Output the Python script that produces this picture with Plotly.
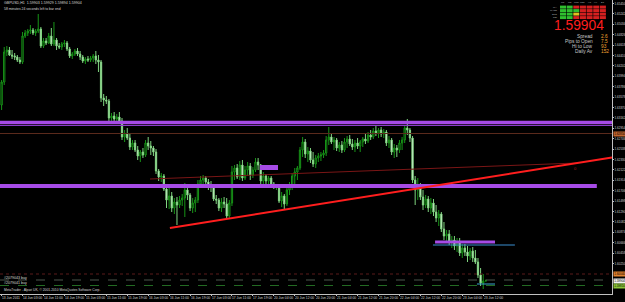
import plotly.graph_objects as go

# ---------------- data (GBPUSD, H1) ----------------
bar_index = list(range(186))

opens = [1.6342, 1.6388, 1.6448, 1.6452, 1.6442, 1.6440, 1.6438, 1.6432, 1.6428, 1.6480,
         1.6486, 1.6490, 1.6492, 1.6486, 1.6490, 1.6494, 1.6460, 1.6470, 1.6466, 1.6480,
         1.6464, 1.6472, 1.6460, 1.6458, 1.6464, 1.6466, 1.6454, 1.6440, 1.6444, 1.6450,
         1.6444, 1.6438, 1.6430, 1.6434, 1.6432, 1.6436, 1.6440, 1.6432, 1.6428, 1.6356,
         1.6352, 1.6350, 1.6316, 1.6320, 1.6314, 1.6318, 1.6310, 1.6278, 1.6284, 1.6276,
         1.6258, 1.6266, 1.6252, 1.6240, 1.6248, 1.6242, 1.6266, 1.6260, 1.6256, 1.6248,
         1.6210, 1.6198, 1.6200, 1.6174, 1.6152, 1.6160, 1.6136, 1.6148, 1.6142, 1.6152,
         1.6156, 1.6172, 1.6162, 1.6136, 1.6146, 1.6152, 1.6184, 1.6192, 1.6196, 1.6188,
         1.6180, 1.6178, 1.6154, 1.6152, 1.6136, 1.6148, 1.6144, 1.6120, 1.6146, 1.6208,
         1.6216, 1.6198, 1.6222, 1.6196, 1.6212, 1.6220, 1.6202, 1.6212, 1.6228, 1.6222,
         1.6190, 1.6200, 1.6190, 1.6196, 1.6184, 1.6178, 1.6180, 1.6150, 1.6160, 1.6144,
         1.6172, 1.6182, 1.6200, 1.6208, 1.6216, 1.6252, 1.6268, 1.6244, 1.6250, 1.6232,
         1.6224, 1.6236, 1.6240, 1.6242, 1.6246, 1.6272, 1.6278, 1.6268, 1.6272, 1.6256,
         1.6262, 1.6252, 1.6268, 1.6274, 1.6264, 1.6258, 1.6266, 1.6260, 1.6268, 1.6274,
         1.6270, 1.6282, 1.6278, 1.6290, 1.6286, 1.6292, 1.6284, 1.6288, 1.6266, 1.6272,
         1.6248, 1.6256, 1.6252, 1.6266, 1.6272, 1.6296, 1.6292, 1.6276, 1.6192, 1.6172,
         1.6180, 1.6158, 1.6142, 1.6154, 1.6136, 1.6146, 1.6128, 1.6116, 1.6124, 1.6094,
         1.6080, 1.6084, 1.6068, 1.6072, 1.6060, 1.6068, 1.6046, 1.6056, 1.6048, 1.6040,
         1.6050, 1.6036, 1.6028, 1.6002, 1.5986, 1.59903]

highs = [1.6392, 1.6458, 1.6460, 1.6458, 1.6452, 1.6446, 1.6442, 1.6438, 1.6488, 1.6492,
         1.6494, 1.6502, 1.6496, 1.6494, 1.6524, 1.6498, 1.6476, 1.6476, 1.6486, 1.6496,
         1.6508, 1.6476, 1.6466, 1.6468, 1.6472, 1.6470, 1.6458, 1.6448, 1.6454, 1.6456,
         1.6450, 1.6442, 1.6438, 1.6440, 1.6440, 1.6444, 1.6450, 1.6442, 1.6432, 1.6364,
         1.6360, 1.6354, 1.6326, 1.6328, 1.6324, 1.6328, 1.6316, 1.6292, 1.6296, 1.6284,
         1.6272, 1.6272, 1.6260, 1.6252, 1.6256, 1.6272, 1.6278, 1.6270, 1.6260, 1.6254,
         1.6214, 1.6206, 1.6204, 1.6180, 1.6176, 1.6168, 1.6156, 1.6158, 1.6160, 1.6164,
         1.6186, 1.6180, 1.6166, 1.6156, 1.6158, 1.6192, 1.6200, 1.6202, 1.6200, 1.6194,
         1.6190, 1.6182, 1.6162, 1.6156, 1.6156, 1.6158, 1.6156, 1.6152, 1.6220, 1.6222,
         1.6224, 1.6230, 1.6232, 1.6220, 1.6228, 1.6226, 1.6218, 1.6236, 1.6236, 1.6224,
         1.6208, 1.6204, 1.6200, 1.6200, 1.6188, 1.6184, 1.6182, 1.6168, 1.6164, 1.6180,
         1.6188, 1.6206, 1.6216, 1.6220, 1.6258, 1.6278, 1.6274, 1.6258, 1.6256, 1.6248,
         1.6242, 1.6246, 1.6248, 1.6252, 1.6280, 1.6298, 1.6284, 1.6278, 1.6276, 1.6268,
         1.6270, 1.6276, 1.6280, 1.6282, 1.6274, 1.6272, 1.6276, 1.6272, 1.6278, 1.6284,
         1.6288, 1.6292, 1.6296, 1.6300, 1.6296, 1.6298, 1.6294, 1.6292, 1.6280, 1.6276,
         1.6264, 1.6262, 1.6272, 1.6278, 1.6302, 1.6314, 1.6296, 1.6280, 1.6200, 1.6196,
         1.6186, 1.6172, 1.6162, 1.6160, 1.6156, 1.6154, 1.6142, 1.6132, 1.6128, 1.6108,
         1.6092, 1.6092, 1.6080, 1.6080, 1.6076, 1.6076, 1.6064, 1.6064, 1.6060, 1.6056,
         1.6058, 1.6052, 1.6036, 1.6016, 1.6004, 1.59929]

lows = [1.6332, 1.6382, 1.6440, 1.6440, 1.6434, 1.6432, 1.6428, 1.6424, 1.6424, 1.6476,
        1.6480, 1.6484, 1.6482, 1.6480, 1.6486, 1.6456, 1.6456, 1.6462, 1.6464, 1.6460,
        1.6460, 1.6452, 1.6454, 1.6452, 1.6458, 1.6450, 1.6436, 1.6434, 1.6440, 1.6440,
        1.6432, 1.6426, 1.6424, 1.6428, 1.6428, 1.6428, 1.6424, 1.6408, 1.6348, 1.6340,
        1.6344, 1.6310, 1.6310, 1.6310, 1.6308, 1.6304, 1.6272, 1.6268, 1.6272, 1.6252,
        1.6252, 1.6248, 1.6232, 1.6228, 1.6236, 1.6238, 1.6252, 1.6242, 1.6240, 1.6204,
        1.6190, 1.6188, 1.6170, 1.6136, 1.6134, 1.6128, 1.6124, 1.6102, 1.6136, 1.6140,
        1.6118, 1.6152, 1.6130, 1.6126, 1.6128, 1.6146, 1.6176, 1.6182, 1.6180, 1.6172,
        1.6168, 1.6150, 1.6144, 1.6130, 1.6128, 1.6136, 1.6114, 1.6116, 1.6140, 1.6192,
        1.6194, 1.6192, 1.6190, 1.6192, 1.6200, 1.6192, 1.6196, 1.6208, 1.6212, 1.6184,
        1.6184, 1.6180, 1.6182, 1.6178, 1.6174, 1.6172, 1.6146, 1.6138, 1.6132, 1.6140,
        1.6162, 1.6172, 1.6184, 1.6192, 1.6212, 1.6238, 1.6236, 1.6228, 1.6226, 1.6218,
        1.6216, 1.6228, 1.6230, 1.6236, 1.6240, 1.6262, 1.6264, 1.6252, 1.6250, 1.6248,
        1.6246, 1.6248, 1.6256, 1.6260, 1.6252, 1.6248, 1.6254, 1.6248, 1.6258, 1.6264,
        1.6266, 1.6272, 1.6274, 1.6280, 1.6276, 1.6278, 1.6276, 1.6260, 1.6256, 1.6242,
        1.6236, 1.6238, 1.6246, 1.6252, 1.6266, 1.6282, 1.6268, 1.6186, 1.6142, 1.6152,
        1.6152, 1.6132, 1.6136, 1.6128, 1.6124, 1.6120, 1.6108, 1.6100, 1.6088, 1.6072,
        1.6068, 1.6062, 1.6056, 1.6052, 1.6048, 1.6040, 1.6036, 1.6040, 1.6028, 1.6032,
        1.6028, 1.6024, 1.5996, 1.5980, 1.5974, 1.59894]

closes = [1.6388, 1.6448, 1.6452, 1.6442, 1.6440, 1.6438, 1.6432, 1.6428, 1.6480, 1.6486,
          1.6490, 1.6492, 1.6486, 1.6490, 1.6494, 1.6460, 1.6470, 1.6466, 1.6480, 1.6464,
          1.6472, 1.6460, 1.6458, 1.6464, 1.6466, 1.6454, 1.6440, 1.6444, 1.6450, 1.6444,
          1.6438, 1.6430, 1.6434, 1.6432, 1.6436, 1.6440, 1.6432, 1.6428, 1.6356, 1.6352,
          1.6350, 1.6316, 1.6320, 1.6314, 1.6318, 1.6310, 1.6278, 1.6284, 1.6276, 1.6258,
          1.6266, 1.6252, 1.6240, 1.6248, 1.6242, 1.6266, 1.6260, 1.6256, 1.6248, 1.6210,
          1.6198, 1.6200, 1.6174, 1.6152, 1.6160, 1.6136, 1.6148, 1.6142, 1.6152, 1.6156,
          1.6172, 1.6162, 1.6136, 1.6146, 1.6152, 1.6184, 1.6192, 1.6196, 1.6188, 1.6180,
          1.6178, 1.6154, 1.6152, 1.6136, 1.6148, 1.6144, 1.6120, 1.6146, 1.6208, 1.6216,
          1.6198, 1.6222, 1.6196, 1.6212, 1.6220, 1.6202, 1.6212, 1.6228, 1.6222, 1.6190,
          1.6200, 1.6190, 1.6196, 1.6184, 1.6178, 1.6180, 1.6150, 1.6160, 1.6144, 1.6172,
          1.6182, 1.6200, 1.6208, 1.6216, 1.6252, 1.6268, 1.6244, 1.6250, 1.6232, 1.6224,
          1.6236, 1.6240, 1.6242, 1.6246, 1.6272, 1.6278, 1.6268, 1.6272, 1.6256, 1.6262,
          1.6252, 1.6268, 1.6274, 1.6264, 1.6258, 1.6266, 1.6260, 1.6268, 1.6274, 1.6270,
          1.6282, 1.6278, 1.6290, 1.6286, 1.6292, 1.6284, 1.6288, 1.6266, 1.6272, 1.6248,
          1.6256, 1.6252, 1.6266, 1.6272, 1.6296, 1.6292, 1.6276, 1.6192, 1.6172, 1.6180,
          1.6158, 1.6142, 1.6154, 1.6136, 1.6146, 1.6128, 1.6116, 1.6124, 1.6094, 1.6080,
          1.6084, 1.6068, 1.6072, 1.6060, 1.6068, 1.6046, 1.6056, 1.6048, 1.6040, 1.6050,
          1.6036, 1.6028, 1.6002, 1.5986, 1.5990, 1.59904]

date_tick_bars = [0, 8, 16, 24, 32, 40, 48, 56, 64, 72, 80, 88, 96, 104, 112, 120,
                  128, 136, 144, 152, 160, 168, 176, 184]
date_tick_labels = ["13 Jun 2011", "14 Jun 03:00", "14 Jun 11:00", "14 Jun 19:00",
                    "15 Jun 03:00", "15 Jun 11:00", "15 Jun 19:00", "16 Jun 03:00",
                    "16 Jun 11:00", "16 Jun 19:00", "17 Jun 03:00", "17 Jun 11:00",
                    "17 Jun 19:00", "20 Jun 04:00", "20 Jun 12:00", "20 Jun 20:00",
                    "21 Jun 04:00", "21 Jun 12:00", "21 Jun 20:00", "22 Jun 04:00",
                    "22 Jun 12:00", "22 Jun 20:00", "23 Jun 04:00", "23 Jun 12:00"]

# visible price-scale labels (the two lowest are hidden behind the order tags)
price_tick_labels = ["1.65450", "1.65242", "1.65034", "1.64826", "1.64618", "1.64410",
                     "1.64202", "1.63994", "1.63786", "1.63578", "1.63370", "1.63162",
                     "1.62954", "1.62746", "1.62538", "1.62330", "1.62122", "1.61914",
                     "1.61706", "1.61498", "1.61290", "1.61082", "1.60874", "1.60666",
                     "1.60458", "1.60250", "1.59626"]

# drawn objects (prices)
resistance_level = 1.6307
resistance_level2 = 1.6301
prev_high_level = 1.6285
support_level = 1.6180
trend_start = (64.3, 1.6096)
trend_end = (233.2, 1.6237)
thin_trend_start = (56.7, 1.6194)
thin_trend_end = (219.8, 1.6226)
box1 = (98.7, 105.6, 1.6212, 1.6222)
zone2_level, zone2_bars = 1.6068, (165.6, 188.5)
blue_level, blue_bars = 1.6062, (164.8, 196.1)
cyan_level, cyan_bars = 1.5984, (181.6, 188.5)
stop_level = 1.6004
order1_level = 1.5992
order2_level = 1.5981
bid_price = 1.59904

# ---------------- figure ----------------
PW, PH = 612.0, 294.0


def px(x):
    return x / PW


def py(y):
    return 1 - y / PH


fig = go.Figure()
fig.add_trace(go.Candlestick(
    x=bar_index, open=opens, high=highs, low=lows, close=closes,
    increasing=dict(line=dict(color="#179417", width=1), fillcolor="#000000"),
    decreasing=dict(line=dict(color="#7fd47f", width=1), fillcolor="#ffffff"),
    whiskerwidth=0, hoverinfo="skip", showlegend=False,
))

shapes = []


def hline(y, color, width, dash="solid", x0=None, x1=None):
    if x0 is None:
        shapes.append(dict(type="line", xref="paper", yref="y", x0=0, x1=1, y0=y, y1=y,
                           line=dict(color=color, width=width, dash=dash), layer="above"))
    else:
        shapes.append(dict(type="line", xref="x", yref="y", x0=x0, x1=x1, y0=y, y1=y,
                           line=dict(color=color, width=width, dash=dash), layer="above"))


hline(stop_level, "#5a1a1a", 1, "dot")
hline(order1_level, "#4c564c", 1, "dash")
hline(order2_level, "#236b23", 1, "dash")
hline(prev_high_level, "#5a2a1c", 1)
hline(resistance_level, "#a64be6", 3.5)
hline(resistance_level2, "#8a3cc8", 1)
hline(support_level, "#a64be6", 4, x0=-0.61, x1=227.4)
hline(zone2_level, "#a64be6", 3, x0=zone2_bars[0], x1=zone2_bars[1])
hline(blue_level, "#3a8fd0", 1, x0=blue_bars[0], x1=blue_bars[1])
hline(cyan_level, "#3aa8d0", 1, x0=cyan_bars[0], x1=cyan_bars[1])
shapes.append(dict(type="rect", xref="x", yref="y", x0=box1[0], x1=box1[1], y0=box1[2], y1=box1[3],
                   fillcolor="#a64be6", line=dict(width=0), layer="above"))
shapes.append(dict(type="line", xref="x", yref="y", x0=thin_trend_start[0], y0=thin_trend_start[1],
                   x1=thin_trend_end[0], y1=thin_trend_end[1],
                   line=dict(color="#7a1616", width=1), layer="above"))
shapes.append(dict(type="line", xref="x", yref="y", x0=trend_start[0], y0=trend_start[1],
                   x1=trend_end[0], y1=trend_end[1],
                   line=dict(color="#ff1e1e", width=2), layer="above"))

# signal table (top right)
tf_names = ["M1", "M5", "M15", "M30", "H1", "H4", "D1"]
row_names = ["MA", "MACD", "STO", "RSI"]
cell_colors = [
    ["#2fbf2f", "#2fbf2f", "#d42020", "#d42020", "#d42020", "#d42020", "#d42020"],
    ["#2fbf2f", "#2fbf2f", "#2fbf2f", "#d42020", "#d42020", "#d42020", "#d42020"],
    ["#2fbf2f", "#2fbf2f", "#e0c020", "#d42020", "#d42020", "#d42020", "#d42020"],
    ["#2fbf2f", "#2fbf2f", "#d42020", "#d42020", "#d42020", "#d42020", "#d42020"],
]
annotations = []
for c, name in enumerate(tf_names):
    cx0 = 560 + c * 6.65
    annotations.append(dict(xref="paper", yref="paper", x=px(cx0 + 3), y=py(2.6), text=name,
                            showarrow=False, font=dict(size=2.4, color="#bbbbbb", family="Arial"),
                            xanchor="center", yanchor="middle"))
    for r in range(4):
        cy0 = 5.6 + r * 3.5
        shapes.append(dict(type="rect", xref="paper", yref="paper",
                           x0=px(cx0), x1=px(cx0 + 6), y0=py(cy0), y1=py(cy0 + 3),
                           fillcolor=cell_colors[r][c], line=dict(width=0)))
for r, name in enumerate(row_names):
    annotations.append(dict(xref="paper", yref="paper", x=px(559), y=py(7.1 + r * 3.5), text=name,
                            showarrow=False, font=dict(size=2.4, color="#bbbbbb", family="Arial"),
                            xanchor="right", yanchor="middle"))


def note(x, y, text, size, color="#d8d8d8", xanchor="left", family="Arial"):
    annotations.append(dict(xref="paper", yref="paper", x=px(x), y=py(y), text=text,
                            showarrow=False, font=dict(size=size, color=color, family=family),
                            xanchor=xanchor, yanchor="middle"))


note(2, 3.4, "GBPUSD,H1  1.59903 1.59929 1.59894 1.59904", 3.6)
note(2, 9.0, "58 minutes 24 seconds left to bar end", 3.4)
note(2, 290.3, "MetaTrader - Alpari UK, © 2001-2010 MetaQuotes Software Corp.", 3.3)
note(2, 278.4, "#2079043 buy", 3.6)
note(2, 283.3, "#2079041 buy", 3.6)
note(606, 25.5, "1.59904", 13.8, color="#ff1e1e", xanchor="right")
info_rows = [("Spread", "2.6"), ("Pips to Open", "7.5"), ("Hi to Low", "93"), ("Daily Av", "152")]
for k, (lab, val) in enumerate(info_rows):
    note(595, 36.2 + k * 5.1, lab, 4.8, color="#c8c8c8", xanchor="right")
    note(599, 36.2 + k * 5.1, val, 4.8, color="#f0a030", xanchor="left")
annotations.append(dict(xref="x", yref="y", x=219.3, y=1.6216, text="0", showarrow=False,
                        font=dict(size=4, color="#b01c1c", family="Arial")))

# date labels under the time axis, left-aligned on their bar
for b, lab in zip(date_tick_bars, date_tick_labels):
    annotations.append(dict(xref="x", yref="paper", x=b, y=py(297.8), text=lab, showarrow=False,
                            xanchor="left", yanchor="middle", xshift=-1.5,
                            font=dict(size=3.3, color="#d0d0d0", family="Arial")))

# coloured price tags on the axis
for level, bg, fg in [(prev_high_level, "#c0652e", "#000000"), (stop_level, "#e0822e", "#000000"),
                      (bid_price, "#f2f2f2", "#000000"), (order2_level, "#8cc63a", "#000000")]:
    annotations.append(dict(xref="paper", yref="y", x=1.0, y=level, text=f"{level:.5f}",
                            showarrow=False, xanchor="left", yanchor="middle",
                            font=dict(size=3.0, color=fg, family="Arial"), bgcolor=bg,
                            borderpad=0.2, xshift=1))

fig.update_layout(
    width=625, height=302,
    margin=dict(l=0, r=13, t=0, b=8, pad=0),
    paper_bgcolor="#000000", plot_bgcolor="#000000",
    shapes=shapes, annotations=annotations, showlegend=False,
    xaxis=dict(range=[-0.61, 233.2], rangeslider=dict(visible=False), showgrid=False, zeroline=False,
               tickmode="array", tickvals=date_tick_bars, showticklabels=False,
               ticks="outside", ticklen=1, tickcolor="#c0c0c0", showline=True,
               linecolor="#c0c0c0", linewidth=1, automargin=False, fixedrange=True),
    yaxis=dict(range=[1.6552 - 0.0002 * 294, 1.6552], side="right", showgrid=False, zeroline=False,
               tickmode="array", tickvals=[float(t) for t in price_tick_labels],
               ticktext=price_tick_labels, tickfont=dict(size=3.0, color="#d0d0d0", family="Arial"),
               ticks="outside", ticklen=1, tickcolor="#c0c0c0", showline=True, linecolor="#c0c0c0",
               linewidth=1, automargin=False, fixedrange=True),
)

fig.write_html("out.html")
